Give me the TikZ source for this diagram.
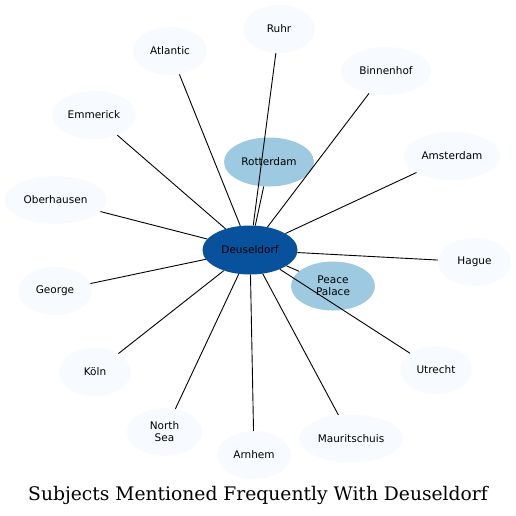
\documentclass[tikz,border=0pt]{standalone}
\usepackage{fontspec}
\newfontfamily\nodefont{DejaVu Sans}
\newfontfamily\titlefont{DejaVu Serif}
\usetikzlibrary{shapes.geometric}
\definecolor{outerc}{HTML}{F7FBFF}
\definecolor{midc}{HTML}{9ECAE1}
\definecolor{mainc}{HTML}{08519C}
\tikzset{
  bub/.style={ellipse, inner sep=0pt, minimum height=48pt, font=\nodefont\fontsize{10.5}{12}\selectfont, align=center, text=black},
  outerbub/.style={bub, fill=outerc},
  midbub/.style={bub, fill=midc, minimum height=49pt},
  mainbub/.style={bub, fill=mainc, minimum height=49pt},
  link/.style={draw=black, line width=0.9pt}
}
\begin{document}
\begin{tikzpicture}[x=1pt,y=-1pt]
\useasboundingbox (0,0) rectangle (516,515);
\node[mainbub, minimum width=95pt] (deu) at (250,250) {Deuseldorf};
\node[midbub, minimum width=90pt] (rot) at (269,162) {Rotterdam};
\node[midbub, minimum width=84pt] (pea) at (333,286) {Peace\\Palace};
\node[outerbub, minimum width=72pt] (ruhr) at (279,29) {Ruhr};
\node[outerbub, minimum width=74pt] (atl) at (170,51) {Atlantic};
\node[outerbub, minimum width=90pt] (bin) at (386,71) {Binnenhof};
\node[outerbub, minimum width=84pt] (emm) at (94,115) {Emmerick};
\node[outerbub, minimum width=97pt] (ams) at (452,156) {Amsterdam};
\node[outerbub, minimum width=102pt] (obe) at (55.5,200) {Oberhausen};
\node[outerbub, minimum width=73pt] (hag) at (474.5,262) {Hague};
\node[outerbub, minimum width=74pt] (geo) at (55,291) {George};
\node[outerbub, minimum width=72pt] (kol) at (95,372) {Köln};
\node[outerbub, minimum width=72pt] (utr) at (436,370) {Utrecht};
\node[outerbub, minimum width=75pt] (nor) at (164.5,432) {North\\Sea};
\node[outerbub, minimum width=74pt] (arn) at (254,455) {Arnhem};
\node[outerbub, minimum width=104pt] (mau) at (351,438.5) {Mauritschuis};
\foreach \t in {rot,pea,ruhr,atl,bin,emm,ams,obe,hag,geo,kol,utr,nor,arn,mau}
  \draw[link] (deu) -- (\t);
\node[font=\titlefont\fontsize{18.7}{20}\selectfont, anchor=base, inner sep=0pt] (title) at (258,500) {Subjects Mentioned Frequently With Deuseldorf};
\end{tikzpicture}
\end{document}
